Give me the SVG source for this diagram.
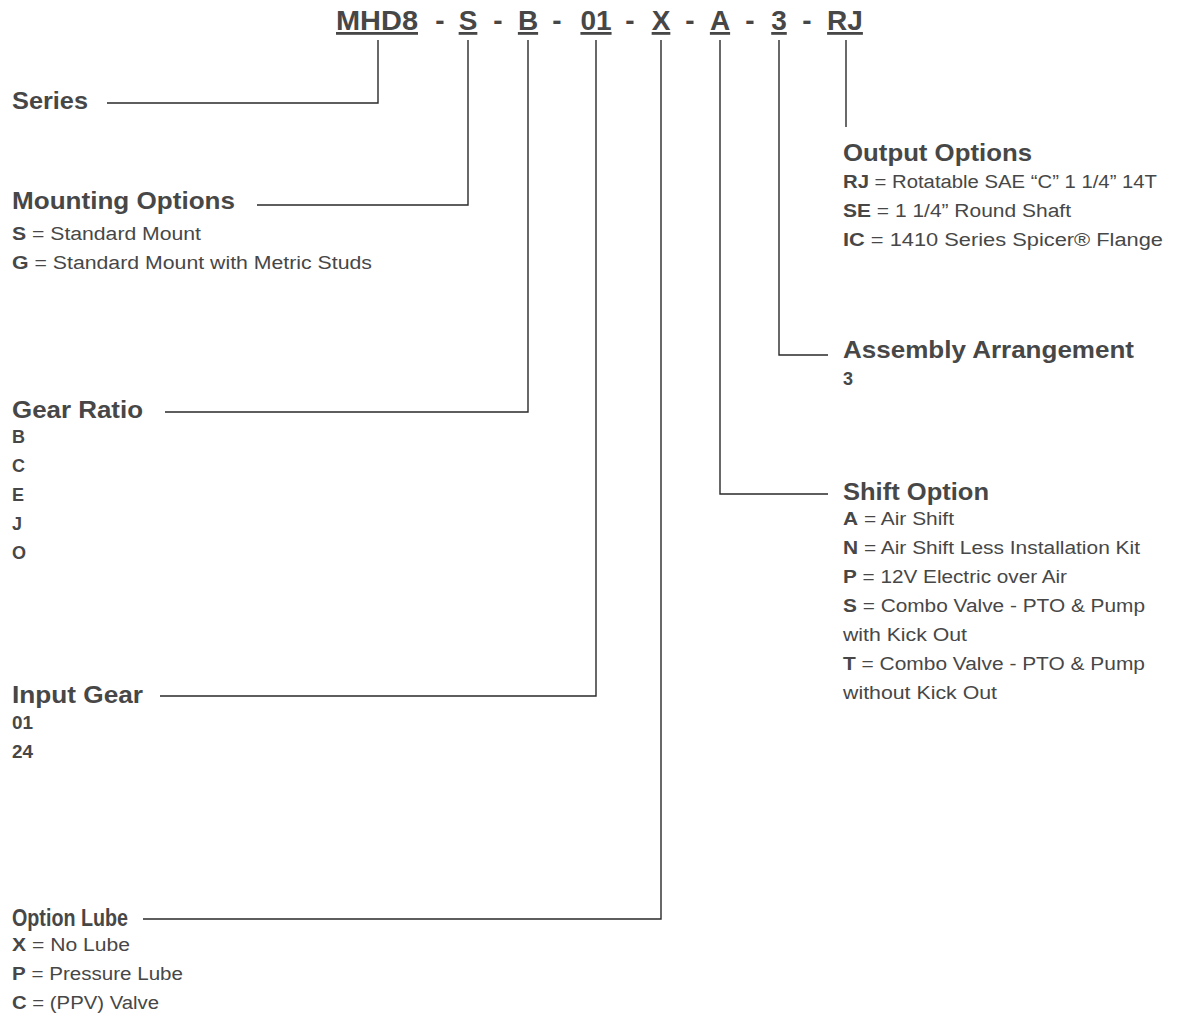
<svg xmlns="http://www.w3.org/2000/svg" width="1185" height="1020" viewBox="0 0 1185 1020">
<style>
text{font-family:"Liberation Sans",Arial,Helvetica,sans-serif;fill:#474747}
.t{font-size:28px;font-weight:bold;text-anchor:middle}
.u{text-decoration:underline}
.h{font-size:24px;font-weight:bold}
.b{font-size:18px}
.k{font-weight:bold}
.c{fill:none;stroke:#2a2a2a;stroke-width:1.4}
</style>
<rect width="1185" height="1020" fill="#ffffff"/>
<g id="code">
<text class="t u" x="377" y="30" textLength="82" lengthAdjust="spacingAndGlyphs">MHD8</text>
<text class="t" x="440" y="30">-</text>
<text class="t u" x="468" y="30">S</text>
<text class="t" x="498" y="30">-</text>
<text class="t u" x="528" y="30">B</text>
<text class="t" x="557" y="30">-</text>
<text class="t u" x="596" y="30">01</text>
<text class="t" x="630" y="30">-</text>
<text class="t u" x="661" y="30">X</text>
<text class="t" x="690" y="30">-</text>
<text class="t u" x="720" y="30">A</text>
<text class="t" x="750" y="30">-</text>
<text class="t u" x="779" y="30">3</text>
<text class="t" x="807" y="30">-</text>
<text class="t u" x="845" y="30">RJ</text>
</g>
<g id="connectors">
<polyline class="c" points="378,40 378,103 107,103"/>
<polyline class="c" points="468,40 468,205 257,205"/>
<polyline class="c" points="528,40 528,412 165,412"/>
<polyline class="c" points="596,40 596,696 160,696"/>
<polyline class="c" points="661,40 661,919 143,919"/>
<polyline class="c" points="720,40 720,494 828,494"/>
<polyline class="c" points="779,40 779,355 828,355"/>
<polyline class="c" points="846,40 846,127"/>
</g>
<g id="series">
<text class="h" x="12" y="109" textLength="76" lengthAdjust="spacingAndGlyphs">Series</text>
</g>
<g id="mounting">
<text class="h" x="12" y="209" textLength="223" lengthAdjust="spacingAndGlyphs">Mounting Options</text>
<text class="b" x="12" y="240" textLength="189" lengthAdjust="spacingAndGlyphs"><tspan class="k">S</tspan> = Standard Mount</text>
<text class="b" x="12" y="269" textLength="360" lengthAdjust="spacingAndGlyphs"><tspan class="k">G</tspan> = Standard Mount with Metric Studs</text>
</g>
<g id="gear-ratio">
<text class="h" x="12" y="418" textLength="131" lengthAdjust="spacingAndGlyphs">Gear Ratio</text>
<text class="b k" x="12" y="443">B</text>
<text class="b k" x="12" y="472">C</text>
<text class="b k" x="12" y="501">E</text>
<text class="b k" x="12" y="530">J</text>
<text class="b k" x="12" y="559">O</text>
</g>
<g id="input-gear">
<text class="h" x="12" y="703" textLength="131" lengthAdjust="spacingAndGlyphs">Input Gear</text>
<text class="b k" x="12" y="729" textLength="21" lengthAdjust="spacingAndGlyphs">01</text>
<text class="b k" x="12" y="758" textLength="21" lengthAdjust="spacingAndGlyphs">24</text>
</g>
<g id="option-lube">
<text class="h" x="12" y="926" textLength="116" lengthAdjust="spacingAndGlyphs">Option Lube</text>
<text class="b" x="12" y="951" textLength="118" lengthAdjust="spacingAndGlyphs"><tspan class="k">X</tspan> = No Lube</text>
<text class="b" x="12" y="980" textLength="171" lengthAdjust="spacingAndGlyphs"><tspan class="k">P</tspan> = Pressure Lube</text>
<text class="b" x="12" y="1009" textLength="147" lengthAdjust="spacingAndGlyphs"><tspan class="k">C</tspan> = (PPV) Valve</text>
</g>
<g id="output-options">
<text class="h" x="843" y="161" textLength="189" lengthAdjust="spacingAndGlyphs">Output Options</text>
<text class="b" x="843" y="188" textLength="314" lengthAdjust="spacingAndGlyphs"><tspan class="k">RJ</tspan> = Rotatable SAE “C” 1 1/4” 14T</text>
<text class="b" x="843" y="217" textLength="228" lengthAdjust="spacingAndGlyphs"><tspan class="k">SE</tspan> = 1 1/4” Round Shaft</text>
<text class="b" x="843" y="246" textLength="320" lengthAdjust="spacingAndGlyphs"><tspan class="k">IC</tspan> = 1410 Series Spicer® Flange</text>
</g>
<g id="assembly">
<text class="h" x="843" y="358" textLength="291" lengthAdjust="spacingAndGlyphs">Assembly Arrangement</text>
<text class="b k" x="843" y="385">3</text>
</g>
<g id="shift-option">
<text class="h" x="843" y="500" textLength="146" lengthAdjust="spacingAndGlyphs">Shift Option</text>
<text class="b" x="843" y="525" textLength="111" lengthAdjust="spacingAndGlyphs"><tspan class="k">A</tspan> = Air Shift</text>
<text class="b" x="843" y="554" textLength="297" lengthAdjust="spacingAndGlyphs"><tspan class="k">N</tspan> = Air Shift Less Installation Kit</text>
<text class="b" x="843" y="583" textLength="224" lengthAdjust="spacingAndGlyphs"><tspan class="k">P</tspan> = 12V Electric over Air</text>
<text class="b" x="843" y="612" textLength="302" lengthAdjust="spacingAndGlyphs"><tspan class="k">S</tspan> = Combo Valve - PTO &amp; Pump</text>
<text class="b" x="843" y="641" textLength="124" lengthAdjust="spacingAndGlyphs">with Kick Out</text>
<text class="b" x="843" y="670" textLength="302" lengthAdjust="spacingAndGlyphs"><tspan class="k">T</tspan> = Combo Valve - PTO &amp; Pump</text>
<text class="b" x="843" y="699" textLength="154" lengthAdjust="spacingAndGlyphs">without Kick Out</text>
</g>
</svg>
